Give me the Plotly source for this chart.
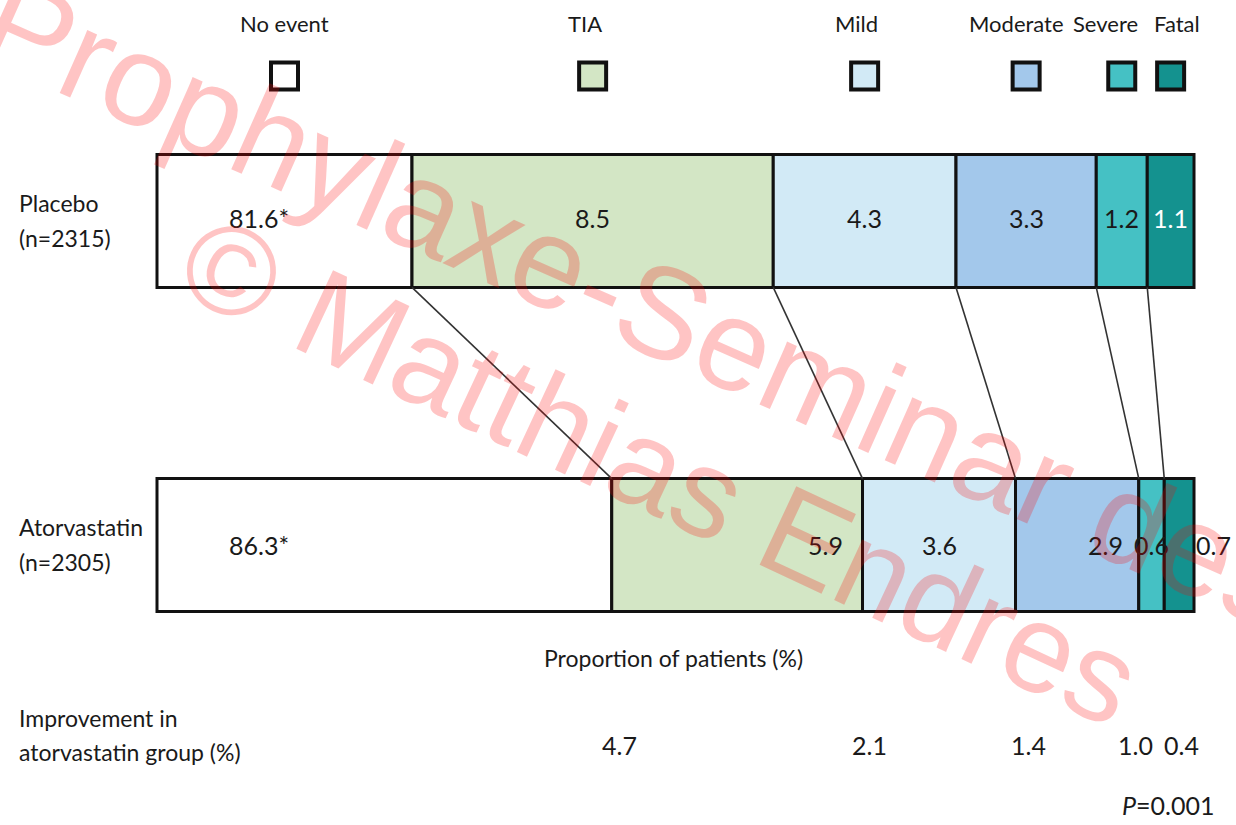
import plotly.graph_objects as go

# ---- data -------------------------------------------------------------
categories = ["No event", "TIA", "Mild", "Moderate", "Severe", "Fatal"]
groups = ["Placebo", "Atorvastatin"]
group_n = [2315, 2305]
placebo = [81.6, 8.5, 4.3, 3.3, 1.2, 1.1]
atorvastatin = [86.3, 5.9, 3.6, 2.9, 0.6, 0.7]
improvement = [4.7, 2.1, 1.4, 1.0, 0.4]
p_value = "0.001"

# ---- style / layout constants ----------------------------------------
colors = ["#ffffff", "#d3e6c5", "#d2eaf6", "#a3c8eb", "#45c1c4", "#14928f"]
label_colors = ["#1a1a1a"] * 5 + ["#ffffff"]
AXIS_START = 75.6          # the x axis is truncated, bars start here
X_RANGE = [71.906, 100.988]
Y_RANGE = [-0.8642, 1.6821]
BAR_W = 0.41
Y_POS = [1, 0]             # placebo on top, atorvastatin below
FONT = "Lato"
INK = "#1a1a1a"
NO_EVENT_LABEL_X = 78.0
ATORVA_LABEL_SHIFT = [0, 88, 0, 28, 0, 34]
IMPROVEMENT_SHIFT = [8, 7, 13, -3, 17]
LEGEND_LABEL_SHIFT = [0, -8, -8, -10, -16, 6]
LEGEND_BOX_Y = 1.4475


def cumulative(vals):
    out, s = [], 0.0
    for v in vals:
        s += v
        out.append(round(s, 4))
    return out


series = [placebo, atorvastatin]
cums = [cumulative(s) for s in series]

fig = go.Figure()

# stacked segments, one trace per outcome category
for i, cat in enumerate(categories):
    xs, bases = [], []
    for s, c in zip(series, cums):
        end = c[i]
        start = AXIS_START if i == 0 else c[i - 1]
        xs.append(end - start)
        bases.append(start)
    fig.add_trace(go.Bar(
        y=Y_POS, x=xs, base=bases, orientation="h", width=BAR_W,
        marker=dict(color=colors[i], line=dict(color="#111111", width=3)),
        name=cat, showlegend=False, hoverinfo="skip",
    ))

# connectors between matching category boundaries of the two bars
cx, cy = [], []
for k in range(len(categories) - 1):
    cx += [cums[0][k], cums[1][k], None]
    cy += [Y_POS[0] - BAR_W / 2, Y_POS[1] + BAR_W / 2, None]
fig.add_trace(go.Scatter(x=cx, y=cy, mode="lines",
                         line=dict(color="#333333", width=1.6),
                         showlegend=False, hoverinfo="skip"))

# legend squares above each placebo segment
leg_x = []
for i in range(len(categories)):
    start = AXIS_START if i == 0 else cums[0][i - 1]
    leg_x.append((start + cums[0][i]) / 2)
fig.add_trace(go.Scatter(
    x=leg_x, y=[LEGEND_BOX_Y] * len(leg_x), mode="markers",
    marker=dict(symbol="square", size=27, color=colors,
                line=dict(color="#111111", width=4)),
    showlegend=False, hoverinfo="skip"))

ann = []
for i, cat in enumerate(categories):
    ann.append(dict(x=leg_x[i], y=1 - 24 / 825, xref="x", yref="paper",
                    text=cat, showarrow=False, xanchor="center", yanchor="middle",
                    xshift=LEGEND_LABEL_SHIFT[i],
                    font=dict(family=FONT, size=22, color=INK)))

# value labels inside the segments
for g, (s, c) in enumerate(zip(series, cums)):
    for i, v in enumerate(s):
        if i == 0:
            x = NO_EVENT_LABEL_X
            txt = f"{v}*"
        else:
            x = (c[i - 1] + c[i]) / 2
            txt = f"{v}"
        shift = ATORVA_LABEL_SHIFT[i] if g == 1 else 0
        ann.append(dict(x=x, y=Y_POS[g], xref="x", yref="y", text=txt,
                        showarrow=False, xanchor="center", yanchor="middle",
                        xshift=shift, yshift=3 if g == 0 else 0,
                        font=dict(family=FONT, size=25,
                                  color=label_colors[i] if g == 0 else INK)))

# group names
for g, name in enumerate(groups):
    top_px = 203 if g == 0 else 527
    ann.append(dict(x=17 / 1236, y=1 - top_px / 825, xref="paper", yref="paper",
                    text=name, showarrow=False, xanchor="left", yanchor="middle",
                    font=dict(family=FONT, size=23, color=INK)))
    ann.append(dict(x=17 / 1236, y=1 - (top_px + 35) / 825, xref="paper", yref="paper",
                    text=f"(n={group_n[g]})", showarrow=False, xanchor="left",
                    yanchor="middle", font=dict(family=FONT, size=23, color=INK)))

ann.append(dict(x=673 / 1236, y=1 - 658 / 825, xref="paper", yref="paper",
                text="Proportion of patients (%)", showarrow=False,
                xanchor="center", yanchor="middle",
                font=dict(family=FONT, size=23, color=INK)))

ann.append(dict(x=17 / 1236, y=1 - 718 / 825, xref="paper", yref="paper",
                text="Improvement in", showarrow=False, xanchor="left",
                yanchor="middle", font=dict(family=FONT, size=23, color=INK)))
ann.append(dict(x=17 / 1236, y=1 - 752 / 825, xref="paper", yref="paper",
                text="atorvastatin group (%)", showarrow=False, xanchor="left",
                yanchor="middle", font=dict(family=FONT, size=23, color=INK)))

# improvement values under the atorvastatin category boundaries
for k, v in enumerate(improvement):
    ann.append(dict(x=cums[1][k], y=1 - 745 / 825, xref="x", yref="paper",
                    text=f"{v:.1f}", showarrow=False, xanchor="center",
                    yanchor="middle", xshift=IMPROVEMENT_SHIFT[k],
                    font=dict(family=FONT, size=25, color=INK)))

ann.append(dict(x=1216 / 1236, y=1 - 805 / 825, xref="paper", yref="paper",
                text=f"<i>P</i>={p_value}", showarrow=False, xanchor="right",
                yanchor="middle", font=dict(family=FONT, size=25, color=INK)))

# watermark
wm_color = "rgba(255,0,0,0.23)"
ann.append(dict(x=640 / 1236, y=1 - 302 / 825, xref="paper", yref="paper",
                text="Prophylaxe-Seminar des", showarrow=False, textangle=24,
                xanchor="center", yanchor="middle",
                font=dict(family="Liberation Sans", size=130, color=wm_color)))
ann.append(dict(x=660 / 1236, y=1 - 470 / 825, xref="paper", yref="paper",
                text="© Matthias Endres", showarrow=False, textangle=25,
                xanchor="center", yanchor="middle",
                font=dict(family="Liberation Sans", size=126, color=wm_color)))

fig.update_layout(
    width=1236, height=825,
    margin=dict(l=0, r=0, t=0, b=0),
    paper_bgcolor="white", plot_bgcolor="white",
    barmode="overlay",
    xaxis=dict(range=X_RANGE, visible=False, fixedrange=True),
    yaxis=dict(range=Y_RANGE, visible=False, fixedrange=True),
    annotations=ann,
    showlegend=False,
)

fig.write_html("out.html")
